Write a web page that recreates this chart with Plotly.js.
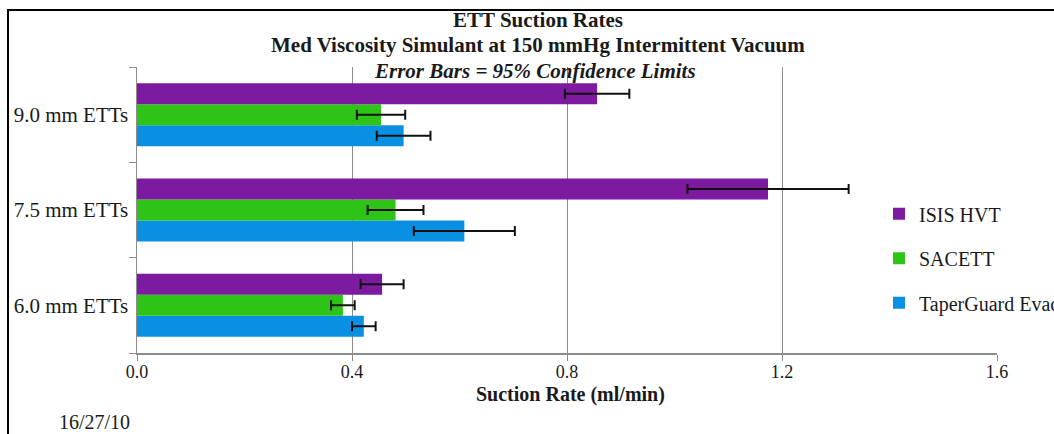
<!DOCTYPE html>
<html>
<head>
<meta charset="utf-8">
<script src="https://cdn.plot.ly/plotly-3.0.1.min.js"></script>
<style>
  html, body { margin: 0; padding: 0; background: #ffffff; overflow: hidden; }
  #chart { position: absolute; left: 0; top: 0; width: 1054px; height: 434px; }
  #frame { position: absolute; left: 7px; top: 9px; width: 1200px; height: 700px;
           border: 2px solid #000; pointer-events: none; }
</style>
</head>
<body>
<div id="chart"></div>
<div id="frame"></div>
<script>
// Categories (bottom to top as drawn)
const categories = ["6.0 mm ETTs", "7.5 mm ETTs", "9.0 mm ETTs"];

// Series names
const seriesNames = ["TaperGuard Evac", "SACETT", "ISIS HVT"];

// Suction rate values (ml/min)
const taperGuardValues = [0.422, 0.609, 0.496];
const sacettValues     = [0.383, 0.481, 0.454];
const isisValues       = [0.456, 1.174, 0.856];

// 95% confidence half-widths
const taperGuardErr = [0.022, 0.094, 0.050];
const sacettErr     = [0.022, 0.052, 0.045];
const isisErr       = [0.040, 0.150, 0.060];

// X tick values
const xTicks = [0.0, 0.4, 0.8, 1.2, 1.6];

const colors = ["#0a90e2", "#2ec417", "#7c1aa0"];
const valueSets = [taperGuardValues, sacettValues, isisValues];
const errSets = [taperGuardErr, sacettErr, isisErr];

const serif = "Liberation Serif, serif";

const traces = seriesNames.map((name, i) => ({
  type: "bar",
  orientation: "h",
  name: name,
  legendgroup: "g" + i,
  legendrank: 3 - i,
  y: categories,
  x: valueSets[i],
  marker: { color: colors[i], line: { width: 0 } },
  error_x: { type: "data", array: errSets[i], visible: true,
             color: "#111111", thickness: 2, width: 5 },
  hoverinfo: "x+name"
}));

const layout = {
  width: 1054,
  height: 434,
  margin: { l: 137, r: 57, t: 67, b: 81, autoexpand: false },
  paper_bgcolor: "#ffffff",
  plot_bgcolor: "#ffffff",
  font: { family: serif, color: "#1a1a1a", size: 20 },
  barmode: "group",
  bargap: 0.34,
  bargroupgap: 0,
  showlegend: true,
  legend: {
    x: (879 - 137) / 860, xanchor: "left",
    y: 0.555, yanchor: "top",
    traceorder: "grouped",
    tracegroupgap: 15.5,
    font: { family: serif, size: 20, color: "#1a1a1a" },
    bgcolor: "rgba(0,0,0,0)",
    borderwidth: 0
  },
  xaxis: {
    range: [0, 1.6],
    tickvals: xTicks,
    tickformat: ".1f",
    showgrid: true, gridcolor: "#8c8c8c", gridwidth: 1,
    zeroline: false,
    showline: true, linecolor: "#8c8c8c", linewidth: 1.5,
    ticks: "outside", ticklen: 6, tickcolor: "#8c8c8c",
    ticklabelstandoff: -4,
    tickfont: { family: serif, size: 18, color: "#1a1a1a" },
    fixedrange: true
  },
  yaxis: {
    type: "category",
    categoryorder: "array",
    categoryarray: categories,
    showgrid: false,
    zeroline: false,
    showline: true, linecolor: "#8c8c8c", linewidth: 1.5,
    ticks: "outside", ticklen: 7, tickcolor: "#8c8c8c",
    tickson: "boundaries",
    ticklabelstandoff: 3,
    tickfont: { family: serif, size: 21, color: "#1a1a1a" },
    fixedrange: true
  },
  annotations: [
    { text: "<b>ETT Suction Rates</b>", xref: "paper", yref: "paper",
      x: (538 - 137) / 860, y: (353 - 20) / 286, xanchor: "center", yanchor: "middle",
      showarrow: false, font: { family: serif, size: 21, color: "#1a1a1a" } },
    { text: "<b>Med Viscosity Simulant at 150 mmHg Intermittent Vacuum</b>", xref: "paper", yref: "paper",
      x: (538 - 137) / 860, y: (353 - 45) / 286, xanchor: "center", yanchor: "middle",
      showarrow: false, font: { family: serif, size: 21, color: "#1a1a1a" } },
    { text: "<b><i>Error Bars = 95% Confidence Limits</i></b>", xref: "paper", yref: "paper",
      x: (535 - 137) / 860, y: (353 - 71) / 286, xanchor: "center", yanchor: "middle",
      showarrow: false, font: { family: serif, size: 21, color: "#1a1a1a" } },
    { text: "<b>Suction Rate (ml/min)</b>", xref: "paper", yref: "paper",
      x: (570 - 137) / 860, y: (353 - 394) / 286, xanchor: "center", yanchor: "middle",
      showarrow: false, font: { family: serif, size: 20, color: "#1a1a1a" } },
    { text: "16/27/10", xref: "paper", yref: "paper",
      x: (57 - 137) / 860, y: (353 - 422) / 286, xanchor: "left", yanchor: "middle",
      showarrow: false, font: { family: serif, size: 20, color: "#1a1a1a" } }
  ]
};

Plotly.newPlot("chart", traces, layout, { staticPlot: true, displayModeBar: false });
</script>
</body>
</html>
